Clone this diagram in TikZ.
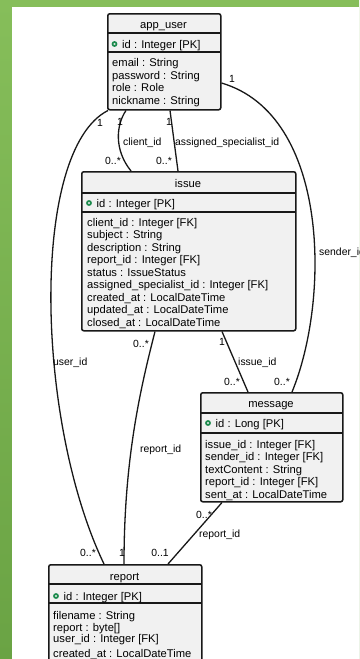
\documentclass[tikz,border=0pt]{standalone}
\usepackage{fontspec}
\setmainfont{Liberation Sans}
\usetikzlibrary{calc}
\definecolor{boxfill}{HTML}{F1F1F1}
\definecolor{boxline}{HTML}{181818}
\definecolor{pkgreen}{HTML}{1B8A4C}
\definecolor{bandtop}{RGB}{134,190,90}
\definecolor{bandbot}{RGB}{106,163,68}
\begin{document}
\begin{tikzpicture}[x=1pt,y=-1pt,
  entity/.style={draw=boxline, fill=boxfill, line width=1.5pt, rounded corners=2pt,
                 inner sep=0pt, anchor=north west},
  divider/.style={draw=boxline, line width=1.5pt},
  etitle/.style={font=\fontsize{11.2}{12.5}\selectfont, anchor=base, inner sep=0pt},
  attr/.style={font=\fontsize{11.2}{12.5}\selectfont, anchor=base west, inner sep=0pt},
  pkdot/.style={draw=pkgreen, line width=1.7pt, circle, inner sep=0pt, minimum size=4pt},
  rel/.style={draw=boxline, line width=1.3pt},
  lbl/.style={font=\fontsize{10.4}{12}\selectfont, inner sep=0pt},
  lblw/.style={lbl, anchor=west}
]
\useasboundingbox (0,0) rectangle (359,659);
\clip (0,0) rectangle (359,659);

% page background: green frame and white sheet
\shade[top color=bandtop, bottom color=bandbot] (0,0) rectangle (359,659);
\fill[white] (12,7) rectangle (359,659);

% ---------- app_user ----------
\node[entity, minimum width=113pt, minimum height=96pt] (appuser) at (107,13) {};
\draw[divider] (107,33) -- (220,33);
\draw[divider] (107,52) -- (220,52);
\node[etitle] (appuserT) at (163.5,28) {app\_user};
\node[pkdot] (appuserK) at (114.5,44) {};
\node[attr] (appuserId) at (122,48) {id : Integer [PK]};
\node[attr] (appuserA1) at (112,66.3) {email : String};
\node[attr] (appuserA2) at (112,79) {password : String};
\node[attr] (appuserA3) at (112,91.3) {role : Role};
\node[attr] (appuserA4) at (112,104) {nickname : String};

% ---------- issue ----------
\node[entity, minimum width=214pt, minimum height=159pt] (issue) at (81,171) {};
\draw[divider] (81,193) -- (295,193);
\draw[divider] (81,212) -- (295,212);
\node[etitle] (issueT) at (188,187) {issue};
\node[pkdot] (issueK) at (89,203) {};
\node[attr] (issueId) at (96.5,207) {id : Integer [PK]};
\node[attr] (issueA1) at (87,226) {client\_id : Integer [FK]};
\node[attr] (issueA2) at (87,238.5) {subject : String};
\node[attr] (issueA3) at (87,251) {description : String};
\node[attr] (issueA4) at (87,263.5) {report\_id : Integer [FK]};
\node[attr] (issueA5) at (87,276) {status : IssueStatus};
\node[attr] (issueA6) at (87,288.5) {assigned\_specialist\_id : Integer [FK]};
\node[attr] (issueA7) at (87,301) {created\_at : LocalDateTime};
\node[attr] (issueA8) at (87,313.5) {updated\_at : LocalDateTime};
\node[attr] (issueA9) at (87,326) {closed\_at : LocalDateTime};

% ---------- message ----------
\node[entity, minimum width=142pt, minimum height=109pt] (message) at (200,392) {};
\draw[divider] (200,413) -- (342,413);
\draw[divider] (200,433) -- (342,433);
\node[etitle] (messageT) at (271,407) {message};
\node[pkdot] (messageK) at (208,423) {};
\node[attr] (messageId) at (215.5,427) {id : Long [PK]};
\node[attr] (messageA1) at (205,448) {issue\_id : Integer [FK]};
\node[attr] (messageA2) at (205,460.5) {sender\_id : Integer [FK]};
\node[attr] (messageA3) at (205,473) {textContent : String};
\node[attr] (messageA4) at (205,485.5) {report\_id : Integer [FK]};
\node[attr] (messageA5) at (205,498) {sent\_at : LocalDateTime};

% ---------- report ----------
\node[entity, minimum width=153pt, minimum height=110pt] (report) at (48,564) {};
\draw[divider] (48,584) -- (201,584);
\draw[divider] (48,603) -- (201,603);
\node[etitle] (reportT) at (124.5,580) {report};
\node[pkdot] (reportK) at (56,596) {};
\node[attr] (reportId) at (63.5,600) {id : Integer [PK]};
\node[attr] (reportA1) at (53,619) {filename : String};
\node[attr] (reportA2) at (53,631.7) {report : byte[]};
\node[attr] (reportA3) at (53,642.3) {user\_id : Integer [FK]};
\node[attr] (reportA4) at (53,657.3) {created\_at : LocalDateTime};

% ---------- relations ----------
% app_user 1 -- 0..* report (user_id)
\draw[rel] ($(appuser.south west)+(1,0)$) .. controls (30,150) and (35,420) .. ($(report.north west)+(56,0)$);
% app_user 1 -- 0..* issue (client_id)
\draw[rel] ($(appuser.south west)+(19,0)$) .. controls (116,125) and (114,150) .. ($(issue.north west)+(50,0)$);
% app_user 1 -- 0..* issue (assigned_specialist_id)
\draw[rel] ($(appuser.south west)+(63,0)$) -- ($(issue.north west)+(97,0)$);
% app_user 1 -- 0..* message (sender_id)
\draw[rel] ($(appuser.north east)+(0,70)$) .. controls (330,115) and (330,300) .. ($(message.north west)+(92,0)$);
% issue 1 -- 0..* message (issue_id)
\draw[rel] ($(issue.south west)+(141,0)$) -- ($(message.north west)+(48,0)$);
% report 1 -- 0..* issue (report_id)
\draw[rel] ($(issue.south west)+(74,0)$) .. controls (140,390) and (124,460) .. ($(report.north west)+(76,0)$);
% report 0..1 -- 0..* message (report_id)
\draw[rel] ($(message.south west)+(22,0)$) -- ($(report.north west)+(120,0)$);

% ---------- relation labels ----------
\node[lbl] (m1) at (100,123) {1};
\node[lbl] (m2) at (120,122) {1};
\node[lblw] (l1) at (123,143) {client\_id};
\node[lbl] (m3) at (113,161) {0..*};
\node[lbl] (m4) at (169,122) {1};
\node[lblw] (l2) at (175,143) {assigned\_specialist\_id};
\node[lbl] (m5) at (164,161) {0..*};
\node[lbl] (m6) at (232,79) {1};
\node[lblw] (l3) at (319,253) {sender\_id};
\node[lbl] (m7) at (282,382) {0..*};
\node[lbl] (m8) at (222,342) {1};
\node[lblw] (l4) at (238,363) {issue\_id};
\node[lbl] (m9) at (232,382) {0..*};
\node[lbl] (m10) at (141,344) {0..*};
\node[lblw] (l5) at (140,450) {report\_id};
\node[lbl] (m11) at (122,553) {1};
\node[lblw] (l6) at (53,363) {user\_id};
\node[lbl] (m12) at (88,553) {0..*};
\node[lbl] (m13) at (204,515) {0..*};
\node[lblw] (l7) at (199,535) {report\_id};
\node[lbl] (m14) at (160,553) {0..1};
\end{tikzpicture}
\end{document}
